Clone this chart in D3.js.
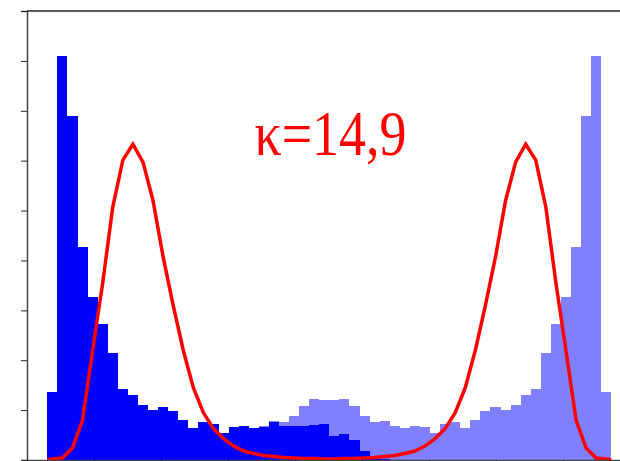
<!DOCTYPE html>
<html>
<head>
<meta charset="utf-8">
<script src="https://cdn.jsdelivr.net/npm/d3@7/dist/d3.min.js"></script>
<style>
    body { margin: 0; background: #fff; }
    svg { display: block; }
</style>
</head>
<body>
<svg id="chart_1"></svg>
<script>
// histogram counts per bin (first sample) and the mirrored sample stacked on top
const counts_left = [1.36, 8.09, 6.89, 4.27, 3.27, 2.73, 2.15, 1.43, 1.30, 1.11,
    1.01, 1.06, 0.99, 0.80, 0.65, 0.77, 0.72, 0.55, 0.67, 0.69,
    0.65, 0.67, 0.76, 0.69, 0.69, 0.68, 0.70, 0.72, 0.48, 0.53,
    0.41, 0.19, 0.07, 0.03, 0.01, 0, 0, 0, 0, 0,
    0, 0, 0, 0, 0, 0, 0, 0, 0, 0,
    0, 0, 0, 0, 0, 0];

const counts_right = [0, 0, 0, 0, 0, 0, 0, 0, 0, 0,
    0, 0, 0, 0, 0, 0, 0, 0, 0, 0,
    0, 0.01, 0.03, 0.07, 0.19, 0.41, 0.53, 0.48, 0.72, 0.70,
    0.68, 0.69, 0.69, 0.76, 0.67, 0.65, 0.69, 0.67, 0.55, 0.72,
    0.77, 0.65, 0.80, 0.99, 1.06, 1.01, 1.11, 1.30, 1.43, 2.15,
    2.73, 3.27, 4.27, 6.89, 8.09, 1.36];

// density curve sampled at the bin centres
const density = [0.02, 0.04, 0.24, 0.80, 2.19, 3.55, 5.07, 6.01, 6.33, 5.97,
    5.20, 4.07, 3.10, 2.20, 1.45, 0.95, 0.63, 0.43, 0.28, 0.18,
    0.13, 0.09, 0.07, 0.05, 0.04, 0.03, 0.03, 0.02, 0.02, 0.03,
    0.03, 0.04, 0.05, 0.07, 0.09, 0.13, 0.18, 0.28, 0.43, 0.63,
    0.95, 1.45, 2.20, 3.10, 4.07, 5.20, 5.97, 6.33, 6.01, 5.07,
    3.55, 2.19, 0.80, 0.24, 0.04, 0.02];

const bin_range = [0.303, 8.721];
const x_ticks = [0, 1, 2, 3, 4, 5, 6, 7, 8, 9];
const y_ticks = [0, 1, 2, 3, 4, 5, 6, 7, 8, 9];
const label_text = "κ=14,9";

const margin = {top: 11, right: -10, bottom: 1, left: 27},
    width = 620 - margin.left - margin.right,
    height = 461 - margin.top - margin.bottom;

const svg_1 = d3.select("#chart_1")
    .attr("width", 620)
    .attr("height", 461)
    .append("g")
    .attr("transform", "translate(" + margin.left + "," + margin.top + ")");

var xScale = d3.scaleLinear()
    .domain([0, 9])
    .range([0, width]);

var yScale = d3.scaleLinear()
    .domain([0, 9])
    .range([height, 0]);

var bin_w = (bin_range[1] - bin_range[0]) / counts_left.length;

var rows = counts_left.map(function (d, i) {
    return {
        x0: bin_range[0] + i * bin_w,
        x1: bin_range[0] + (i + 1) * bin_w,
        left: d,
        right: counts_right[i]
    };
});

var layers = d3.stack().keys(["left", "right"])(rows);

var color = d3.scaleOrdinal()
    .domain(["left", "right"])
    .range(["#0000ff", "#8080ff"]);

svg_1.selectAll("g.layer")
    .data(layers)
    .enter()
    .append("g")
    .attr("class", "layer")
    .attr("fill", function (d) { return color(d.key); })
    .selectAll("rect")
    .data(function (d) { return d; })
    .enter()
    .append("rect")
    .attr("shape-rendering", "crispEdges")
    .attr("x", function (d) { return xScale(d.data.x0); })
    .attr("width", function (d) { return xScale(d.data.x1) - xScale(d.data.x0); })
    .attr("y", function (d) { return yScale(d[1]); })
    .attr("height", function (d) { return yScale(d[0]) - yScale(d[1]); });

// red density line, closed off to zero at both ends of the bins
var pts = [[bin_range[0], 0]]
    .concat(density.map(function (d, i) { return [bin_range[0] + (i + 0.5) * bin_w, d]; }))
    .concat([[bin_range[1], 0]]);

svg_1.append("path")
    .datum(pts)
    .attr("fill", "none")
    .attr("stroke", "#ff0000")
    .attr("stroke-width", 3.5)
    .attr("d", d3.line()
        .x(function (d) { return xScale(d[0]); })
        .y(function (d) { return yScale(d[1]); }));

//axes
svg_1.append("g")
    .attr("class", "y-axis")
    .call(d3.axisLeft(yScale).tickValues(y_ticks).tickFormat("").tickSizeOuter(0).tickSize(6));

svg_1.append("g")
    .attr("class", "x-axis")
    .attr("transform", "translate(0," + height + ")")
    .call(d3.axisBottom(xScale).tickValues(x_ticks).tickFormat("").tickSizeOuter(0).tickSize(6));

svg_1.append("line")
    .attr("x1", 0)
    .attr("x2", width)
    .attr("y1", 0)
    .attr("y2", 0)
    .attr("stroke", "#222")
    .attr("stroke-width", 1.3);

svg_1.selectAll(".domain").attr("stroke", "#444").attr("stroke-width", 1.5);
svg_1.selectAll(".tick line").attr("stroke", "#222");

// label, slightly narrowed and stretched like the source
svg_1.append("text")
    .attr("transform", "translate(" + xScale(4.53) + "," + yScale(6.11) + ") scale(0.9,1.06)")
    .attr("text-anchor", "middle")
    .attr("fill", "#ff0000")
    .style("font-family", "'Liberation Serif', 'DejaVu Serif', serif")
    .style("font-size", "60px")
    .text(label_text);
</script>
</body>
</html>
